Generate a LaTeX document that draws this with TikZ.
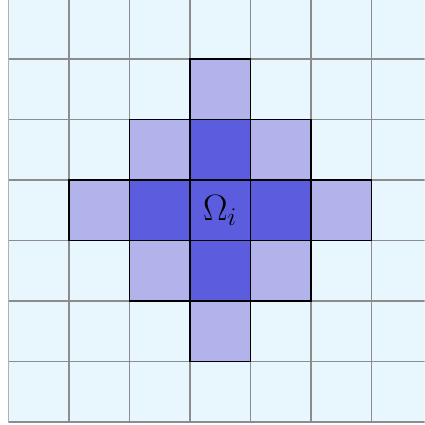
\documentclass[tikz,border=0pt]{standalone}
\usepackage{amsmath}

\definecolor{cellbg}{RGB}{232,246,253}
\definecolor{cellnear}{RGB}{179,179,236}
\definecolor{cellcore}{RGB}{92,92,222}

\begin{document}
\begin{tikzpicture}[x=1cm,y=1cm]

\useasboundingbox (-0.14,-0.05) rectangle (6.88,6.975);

% Background grid
\begin{scope}
\clip (0,-0.05) rectangle (6.88,6.975);
\fill[cellbg] (0,0) rectangle (7,7);
\draw[gray!90,line width=0.6pt] (0,0) grid (7,7);
\end{scope}

% Outer neighbours
\foreach \cx/\cy in {3/5,3/1,1/3,5/3,2/4,4/4,2/2,4/2}
  \filldraw[fill=cellnear,draw=black,line width=0.6pt] (\cx,\cy) rectangle ++(1,1);

% Inner neighbours
\foreach \cx/\cy in {3/4,3/2,2/3,4/3,3/3}
  \filldraw[fill=cellcore,draw=black,line width=0.6pt] (\cx,\cy) rectangle ++(1,1);

% Label
\node[font=\LARGE] (omega) at (3.5,3.5) {$\Omega_i$};

\end{tikzpicture}
\end{document}
